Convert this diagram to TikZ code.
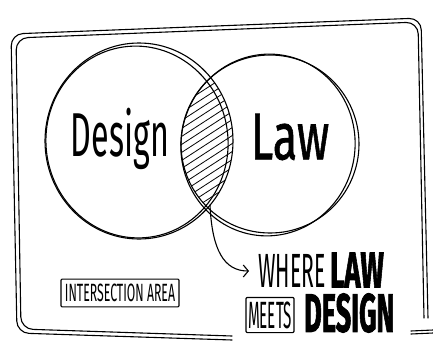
\documentclass[tikz,border=0pt]{standalone}
\usepackage{fontspec}
\setmainfont{Fira Sans}
\newfontfamily\thick[FakeBold=1.2]{Fira Sans}
\newfontfamily\heavy[BoldFeatures={FakeBold=2}]{Fira Sans}
\usetikzlibrary{arrows.meta}

% squeeze a word sideways, the lettering is narrow
\newcommand{\slim}[2]{\scalebox{#1}[1]{#2}}

\tikzset{
  sketch/.style={line width=1.1pt, line cap=round, line join=round},
  hatch/.style={line width=0.8pt},
  word/.style={inner sep=0pt},
  tag/.style={draw, sketch, inner xsep=4pt, inner ysep=5pt, rounded corners=1pt},
}

\begin{document}
\begin{tikzpicture}[x=1pt,y=-1pt]
    \useasboundingbox (0,0) rectangle (433,345);

    % frame, two strokes for the pencil look
    \draw[sketch, rounded corners=12pt] (232,340) -- (17,333) -- (11,34) -- (421,18) -- (428,318);
    \draw[sketch, rounded corners=12pt] (232,336) -- (21,329) -- (16,38) -- (418,22) -- (424,318);
    \draw[sketch] (411,334) -- (433,333);
    \draw[sketch] (411,331) -- (433,330);

    % the hatched lens
    \begin{scope}
        \clip (139,141) ellipse (94 and 98);
        \clip (270,144) ellipse (89 and 89);
        \foreach \y in {40,48,...,300}
            \draw[hatch] (170,\y) -- (250,\y-52);
    \end{scope}

    % left circle
    \draw[sketch] (139,141) ellipse (94 and 98);
    \draw[sketch, rotate around={8:(137,142)}] (137,142) ellipse (91 and 96);

    % right circle
    \draw[sketch] (270,144) ellipse (89 and 89);
    \draw[sketch, rotate around={-10:(268,145)}] (268,145) ellipse (87 and 91);

    % labels in the circles
    \node[word] (design) at (120,139) {\fontsize{62}{62}\selectfont\slim{0.52}{Design}};
    \node[word] (law) at (290,137) {\fontsize{66}{66}\thick\slim{0.68}{Law}};

    % caption
    \node[word, anchor=west] (where) at (258,271) {\fontsize{48}{48}\selectfont\slim{0.44}{WHERE}};
    \node[word, anchor=west] (lawcap) at (330,270) {\fontsize{50}{50}\heavy\bfseries\slim{0.55}{LAW}};
    \node[tag, inner xsep=2pt, inner ysep=4pt] (meets) at (270,315) {\fontsize{38}{38}\selectfont\slim{0.4}{MEETS}};
    \node[word, anchor=west] (designcap) at (304,313) {\fontsize{54}{54}\heavy\bfseries\slim{0.5}{DESIGN}};

    % area tag
    \node[tag] (area) at (120,293) {\fontsize{25}{25}\selectfont\slim{0.49}{INTERSECTION AREA}};

    % arrow out of the lens
    \coordinate (lens) at (210,205);
    \draw[sketch, -{Straight Barb[length=5pt,width=12pt]}] (lens) .. controls +(2,45) and +(-25,0) .. ([xshift=-9pt]where.west);
\end{tikzpicture}
\end{document}
